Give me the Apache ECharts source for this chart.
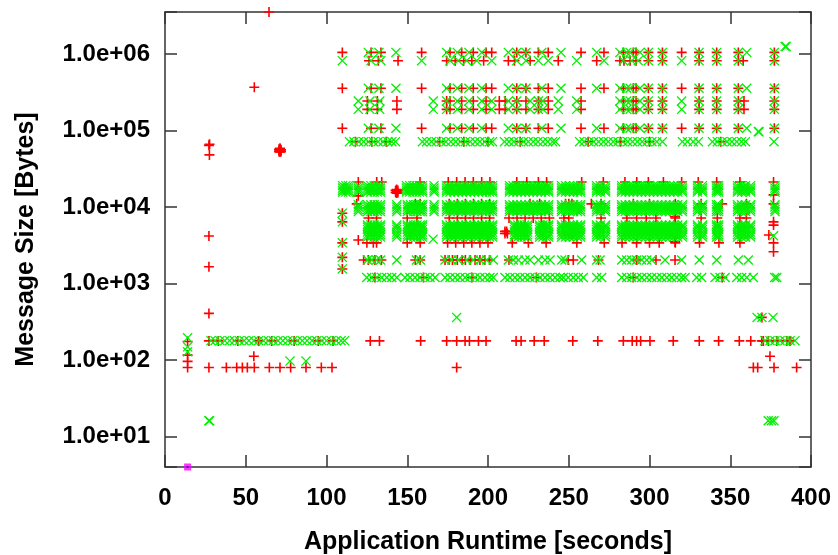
<!DOCTYPE html>
<html>
<head>
<meta charset="utf-8">
<script src="https://cdn.jsdelivr.net/npm/echarts@6/dist/echarts.min.js"></script>
<style>
  html, body { margin: 0; padding: 0; background: #fff; }
  #chart { width: 838px; height: 555px; }
</style>
</head>
<body>
<div id="chart"></div>
<script>
// ---- message log: runtime [s] vs message size [bytes] ----

// sparse large-message rows (red "+")
const redTimesLarge = [109.8, 127.6, 133.7, 158.9, 176.5, 183.7, 190.9, 198.8, 202.3, 217.8, 223.5, 231.2, 237.3, 257.6, 271.8, 283.8, 290.0, 291.7, 299.3, 308.0, 319.9, 330.7, 341.6, 355.0, 377.3];
const redTimes817k = [126.3, 132.1, 144.3, 174.4, 179.7, 184.9, 190.0, 197.3, 212.6, 216.4, 226.1, 243.5, 267.3, 281.7, 284.2, 288.0, 291.7, 299.3, 308.0, 330.7, 341.6, 355.0, 358.0, 377.3];
const redTimesMid = [125.3, 131.5, 143.6, 174.4, 176.5, 183.7, 190.9, 198.8, 207.0, 210.6, 217.8, 223.5, 231.2, 237.3, 257.6, 283.8, 290.0, 291.7, 299.3, 308.0, 330.7, 341.6, 355.0, 358.5, 377.3];
const redTimes71k = [118, 128, 137, 170, 185, 200, 220, 262, 282, 300, 344];
const redTimes21k = [119.7, 131.1, 134.2, 157.9, 175.4, 180.6, 185.8, 190.9, 196.1, 201.2, 217.8, 224.0, 231.2, 236.3, 258.0, 271.4, 284.8, 292.1, 299.3, 308.6, 319.9, 330.2, 341.6, 356.0, 376.8];
const redTimes11k = [118.7, 155, 158, 176, 181, 186, 191, 196, 201, 226, 232, 248, 250, 252, 264, 270, 290, 300, 316, 332, 345, 360, 376.8];
const redTimes7k = [126, 131, 150, 156, 176, 181, 186, 191, 196, 201, 213, 218, 223, 228, 233, 238, 247, 250, 270, 286, 292, 298, 304, 316, 332, 342, 356, 360];
const redTimes3k = [125, 129, 131, 150, 158, 175, 180, 185, 190, 195, 200, 215, 225, 236, 255, 272, 283, 292, 300, 306, 316, 331, 343, 356, 376.8];
const redTimes2k = [123, 126, 130, 134, 155, 158, 173.4, 176, 178, 181, 184, 186, 189, 192, 195, 198, 201, 213, 249.7, 252.8, 268.4, 292.1, 304, 315.8];
const redTimes1k = [130, 160, 190, 230, 290, 345];
const redTimes178 = [27.2, 33, 45, 58, 66, 80, 95, 104, 127.1, 132.8, 158.3, 174.4, 180.6, 185.8, 188.5, 194.1, 198.8, 217.4, 220.5, 228.6, 234.8, 252.5, 268.0, 283.8, 289.3, 292.0, 294.5, 300.3, 314.7, 330.8, 342.8, 355.6, 362.7, 369.5, 370.5, 373.6, 378.8, 385.0, 387.0];
const redTimes80 = [14.0, 27.2, 38.0, 44.4, 47.9, 51.0, 55.3, 64.6, 71.2, 77.8, 87.3, 96.8, 103.4, 180.6, 364.3, 367.0, 377.1, 391.1];

// individual red messages [time, size]
const redSingles = [
  [14.0, 175], [14.0, 116], [14.0, 96], [27.2, 407], [27.2, 1660], [27.2, 4180],
  [27.2, 64000], [27.6, 66000], [27.5, 48000], [64.4, 3540000], [55.3, 367000],
  [70.6, 53000], [71.2, 54500], [71.8, 56000], [71.2, 57000], [70.6, 57000], [71.8, 53000],
  [70.8, 55000], [71.6, 55000], [71.2, 52500], [71.2, 58500],
  [55.0, 112], [374.6, 112], [369.6, 361],
  [142.8, 15500], [143.5, 16000], [144.2, 16500], [142.8, 16500], [144.2, 15500], [143.5, 15200], [143.5, 16900],
  [210.5, 4500], [211.5, 4800], [212.0, 4500], [210.5, 4800],
  [248, 4400], [250, 4700], [252, 4400], [254, 4700], [250, 4400], [252, 4700],
  [315.8, 9000], [315.8, 7500], [315.8, 6000], [315.8, 5000], [315.8, 4200], [315.8, 3500],
  [119.7, 14000], [119.7, 3700],
  [109.8, 8300], [109.8, 6400], [109.8, 3400], [109.8, 2200], [109.8, 1550],
  [376.8, 14400], [376.8, 6400], [376.8, 5800], [373.9, 4300], [376.8, 2600]
];

// green "x" rows
const greenTimesLarge = [125.9, 132.5, 143.0, 174.4, 181.0, 188.2, 196.1, 212.6, 217.8, 223.5, 233.3, 245.2, 267.3, 281.7, 285.9, 288.0, 294.1, 299.3, 308.0, 330.7, 341.6, 355.0, 360.2, 377.3];
const greenTimes817k = [109.8, 127.6, 133.7, 158.9, 176.5, 181.6, 186.8, 193.0, 202.3, 217.8, 223.5, 231.2, 237.3, 254.9, 271.8, 283.8, 289.0, 293.0, 299.3, 308.0, 319.9, 330.7, 341.6, 355.0, 377.3];
const greenTimesMid = [119.7, 126.9, 133.0, 166.1, 174.4, 181.0, 188.2, 196.1, 202.3, 212.6, 217.8, 226.1, 231.2, 234.0, 243.5, 254.9, 281.7, 285.9, 288.0, 294.1, 299.3, 308.0, 319.9, 330.7, 341.6, 355.0, 377.3];
const greenTimes71k = [114.2, 117, 120, 123, 126, 129, 132, 135, 138, 140.5, 142.7,
  159.4, 162, 165, 168, 171, 174, 177, 180, 183, 186, 189, 192, 195, 198, 201, 202.8,
  210.2, 213, 216, 219, 222, 225, 228, 231, 234, 237, 240, 241.8,
  256.7, 259.5, 262.5, 265.5, 268.5, 271.5, 274.5, 277.5, 280.5, 283.5, 286.5, 289.5, 292.5, 295.5, 298.5, 301.5, 304.5, 308,
  320.4, 323.5, 327, 330.3, 339, 342, 345, 348, 351, 354, 357, 359.4, 377.1];
const greenBandA = [110, 112, 113.6, 119.7, 125.4, 127.5, 129.5, 131.5, 133.4, 149.5, 151.5, 153.5, 155.5, 157.5, 159.4, 166.6,
  174.3, 176.5, 179, 181.5, 184, 186.5, 189, 191.5, 194, 196.5, 199, 201, 202.8,
  213.3, 215.5, 218, 220.5, 223, 225.5, 228, 230.5, 233, 235.5, 237.5, 245.5, 248, 250.5, 253, 255.5, 257.3,
  267.2, 269.5, 272.8, 282.7, 285, 287.5, 290, 292.5, 295, 297.5, 300, 302.5, 305, 307.5, 310, 312.5, 315, 317.5, 320.4,
  329.7, 332.8, 341.5, 342.8, 354.5, 357, 359.5, 362.6, 377.7];
const greenBandB = [119.7, 125.4, 127.5, 129.5, 131.5, 133.4, 143.5, 150.1, 152, 154, 156, 158, 159.4, 166.6,
  174.3, 176.5, 179, 181.5, 184, 186.5, 189, 191.5, 194, 196.5, 199, 201, 202.8,
  213.3, 215.5, 218, 220.5, 223, 225.5, 228, 230.5, 233, 235.5, 237.5, 245.5, 248, 250.5, 253, 255.5, 257.3,
  267.2, 269.5, 272.8, 282.7, 285, 287.5, 290, 292.5, 295, 297.5, 300, 302.5, 305, 307.5, 310, 312.5, 315, 317.5, 320.4,
  329.7, 332.8, 341.5, 342.8, 354.5, 357, 359.5, 362.6, 377.7];
const greenBandC = [125.4, 127.5, 129.5, 131.5, 133.4, 143.5, 150.1, 152, 154, 156, 158, 159.4,
  174.3, 176.5, 179, 181.5, 184, 186.5, 189, 191.5, 194, 196.5, 199, 201, 202.8,
  216.4, 218.5, 220.5, 222.5, 224.5, 231.9, 234, 236, 237.5, 245.5, 248, 250.5, 253, 255.5, 257.3,
  267.2, 269.5, 272.8, 282.7, 285, 287.5, 290, 292.5, 295, 297.5, 300, 302.5, 305, 307.5, 310, 312.5, 315, 317.5, 320.4,
  329.7, 332.8, 341.5, 342.8, 354.5, 357, 359.5, 362.6];
const greenTimes2k = [125.4, 128, 131, 133.5, 143.5, 155.7, 158.2, 173.4, 177.5, 181.6, 186.8, 190.9, 195.1, 199.2, 203.3,
  212.6, 215.7, 218.8, 222.9, 226.0, 231.2, 235.3, 238.4, 245.6, 247.7, 258.0, 267.3, 269.4,
  282.8, 285.9, 289.0, 292.1, 295.2, 298.3, 301.4, 309.6, 319.9, 330.8, 341.6, 355.0, 361.2];
const greenTimes1k = [124.9, 128.0, 131.1, 134.2, 137.3, 140.4, 143.5, 148.6, 151.7, 154.8, 157.9, 161.0, 164.1, 167.2,
  173.4, 176.5, 179.6, 182.7, 185.8, 188.8, 191.9, 195.0, 198.1, 201.2, 203.3,
  210.5, 213.6, 216.7, 219.8, 222.9, 226.0, 229.1, 232.2, 235.3, 238.4, 241.5, 244.6, 246.6, 249.7, 252.8, 255.9, 259.0,
  267.3, 270.4, 282.8, 285.9, 289.0, 292.1, 295.2, 298.3, 301.4, 304.5, 307.6, 310.7, 313.7, 316.8, 319.9, 322.0,
  329.2, 332.3, 340.6, 343.7, 346.8, 354.0, 357.1, 360.2, 364.3, 377.5, 378.8];
const greenTimes179 = [28.5, 31, 34, 37, 40, 43, 46, 49, 52, 55, 58, 61, 64, 67, 70, 73, 76, 79, 82, 85, 88, 91, 94, 97,
  100, 103, 106, 109, 111.2, 371.5, 374.6, 377.7, 380.8, 383.9, 387.0, 390.1];

// individual green messages [time, size]
const greenSingles = [
  [14.0, 195], [14.0, 149], [14.0, 128], [27.2, 16.1], [27.6, 16.1], [77.4, 97], [87.3, 97],
  [180.6, 361], [366.6, 361], [369.6, 361], [376.5, 361], [373.5, 16.1], [375.5, 16.1], [377.0, 16.1],
  [384.0, 1250000], [384.6, 1250000], [367.4, 97000], [367.8, 96000],
  [109.8, 8300], [109.8, 6400], [109.8, 3400], [109.8, 2200], [109.8, 1550],
  [376.8, 4200], [166.0, 3800]
];

// single probe message at start-up
const probeTimes = [14.0];
const probeSizes = [4];

// size rows: [bytes, times]
const redRows = [
  [1050000, redTimesLarge], [817000, redTimes817k], [357000, redTimesLarge],
  [243000, redTimesMid], [189000, redTimesMid], [107000, redTimesLarge], [71400, redTimes71k],
  [21200, redTimes21k], [11000, redTimes11k], [7200, redTimes7k], [3400, redTimes3k],
  [2030, redTimes2k], [1200, redTimes1k], [178, redTimes178], [80, redTimes80]
];
const greenRows = [
  [1050000, greenTimesLarge], [817000, greenTimes817k], [357000, greenTimesLarge],
  [243000, greenTimesMid], [189000, greenTimesMid], [107000, greenTimesLarge], [71400, greenTimes71k],
  [19000, greenBandA], [17700, greenBandA], [16600, greenBandA], [15700, greenBandA],
  [10700, greenBandB], [10000, greenBandB], [9300, greenBandB], [8730, greenBandB],
  [5800, greenBandC], [5480, greenBandC], [5100, greenBandC], [4710, greenBandC], [4350, greenBandC], [4050, greenBandC],
  [2030, greenTimes2k], [1200, greenTimes1k], [179, greenTimes179]
];

function expandRows(rows, singles) {
  const pts = [];
  rows.forEach(([size, times]) => times.forEach(t => pts.push([t, size])));
  singles.forEach(p => pts.push(p));
  return pts;
}

const redData = expandRows(redRows, redSingles);
const greenData = expandRows(greenRows, greenSingles);
const probeData = probeTimes.map((t, i) => [t, probeSizes[i]]);

const PLUS = 'path://M0,4.2H10V5.8H0Z M4.2,0H5.8V10H4.2Z';
const CROSS = 'path://M0.9,0L5,4.1L9.1,0L10,0.9L5.9,5L10,9.1L9.1,10L5,5.9L0.9,10L0,9.1L4.1,5L0,0.9Z';

const X_MIN = 0, X_MAX = 400, X_STEP = 50;
const Y_MIN = 4, Y_MAX = 3540000;
const TICK = 12;
const INK = '#333';
const FONT = 'Liberation Sans';

function frame() { return { show: true, onZero: false, lineStyle: { color: INK, width: 1.5 } }; }

// tick-only axes pulled TICK px into the plot box, so their outward ticks end on the frame
function xTicks(position) {
  return {
    type: 'value', min: X_MIN, max: X_MAX, interval: X_STEP, position, offset: -TICK,
    axisLine: { show: false, onZero: false }, splitLine: { show: false }, axisLabel: { show: false },
    axisTick: { show: true, length: TICK, lineStyle: { color: INK, width: 1.5 } }
  };
}
function yTicks(position) {
  return {
    type: 'log', logBase: 10, min: Y_MIN, max: Y_MAX, position, offset: -TICK,
    axisLine: { show: false, onZero: false }, splitLine: { show: false }, axisLabel: { show: false },
    minorTick: { show: false },
    axisTick: { show: true, length: TICK, lineStyle: { color: INK, width: 1.5 } }
  };
}

function sci(v) {
  const e = Math.round(Math.log10(v));
  const m = v / Math.pow(10, e);
  const es = (e < 0 ? '-' : '+') + String(Math.abs(e)).padStart(2, '0');
  return m.toFixed(1) + 'e' + es;
}

const chart = echarts.init(document.getElementById('chart'), null, { renderer: 'canvas' });
chart.setOption({
  animation: false,
  backgroundColor: '#fff',
  grid: { left: 165, right: 27, top: 12, bottom: 88, containLabel: false, outerBoundsMode: 'none' },
  xAxis: [
    {
      type: 'value', min: X_MIN, max: X_MAX, interval: X_STEP, position: 'bottom',
      name: 'Application Runtime [seconds]', nameLocation: 'middle', nameGap: 63,
      nameTextStyle: { fontFamily: FONT, fontWeight: 'bold', fontSize: 25, color: '#000' },
      axisLine: frame(), axisTick: { show: false }, splitLine: { show: false },
      axisLabel: { fontFamily: FONT, fontWeight: 'bold', fontSize: 24, color: '#000', margin: 19 }
    },
    {
      type: 'value', min: X_MIN, max: X_MAX, interval: X_STEP, position: 'top',
      axisLine: frame(), axisTick: { show: false }, splitLine: { show: false }, axisLabel: { show: false }
    },
    xTicks('bottom'),
    xTicks('top')
  ],
  yAxis: [
    {
      type: 'log', logBase: 10, min: Y_MIN, max: Y_MAX, position: 'left',
      name: 'Message Size [Bytes]', nameLocation: 'middle', nameGap: 126, nameRotate: 90,
      nameTextStyle: { fontFamily: FONT, fontWeight: 'bold', fontSize: 25, color: '#000' },
      axisLine: frame(), axisTick: { show: false }, splitLine: { show: false }, minorTick: { show: false },
      axisLabel: {
        fontFamily: FONT, fontWeight: 'bold', fontSize: 24, color: '#000', margin: 15,
        showMinLabel: false, showMaxLabel: false, formatter: sci
      }
    },
    {
      type: 'log', logBase: 10, min: Y_MIN, max: Y_MAX, position: 'right',
      axisLine: frame(), axisTick: { show: false }, splitLine: { show: false }, axisLabel: { show: false }
    },
    yTicks('left'),
    yTicks('right')
  ],
  series: [
    {
      type: 'scatter', name: 'sent', data: redData, xAxisIndex: 0, yAxisIndex: 0,
      symbol: PLUS, symbolSize: 10, itemStyle: { color: '#ff0000', opacity: 1 }, clip: false, z: 2
    },
    {
      type: 'scatter', name: 'received', data: greenData, xAxisIndex: 0, yAxisIndex: 0,
      symbol: CROSS, symbolSize: 10, itemStyle: { color: '#00f000', opacity: 1 }, clip: false, z: 3
    },
    {
      type: 'scatter', name: 'probe', data: probeData, xAxisIndex: 0, yAxisIndex: 0,
      symbol: 'rect', symbolSize: 7, itemStyle: { color: '#ff00ff' }, clip: false, z: 4
    },
    {
      type: 'scatter', name: 'probe-core', data: probeData, xAxisIndex: 0, yAxisIndex: 0,
      symbol: 'rect', symbolSize: 2, itemStyle: { color: '#2020a0' }, clip: false, z: 5
    }
  ]
});
</script>
</body>
</html>
